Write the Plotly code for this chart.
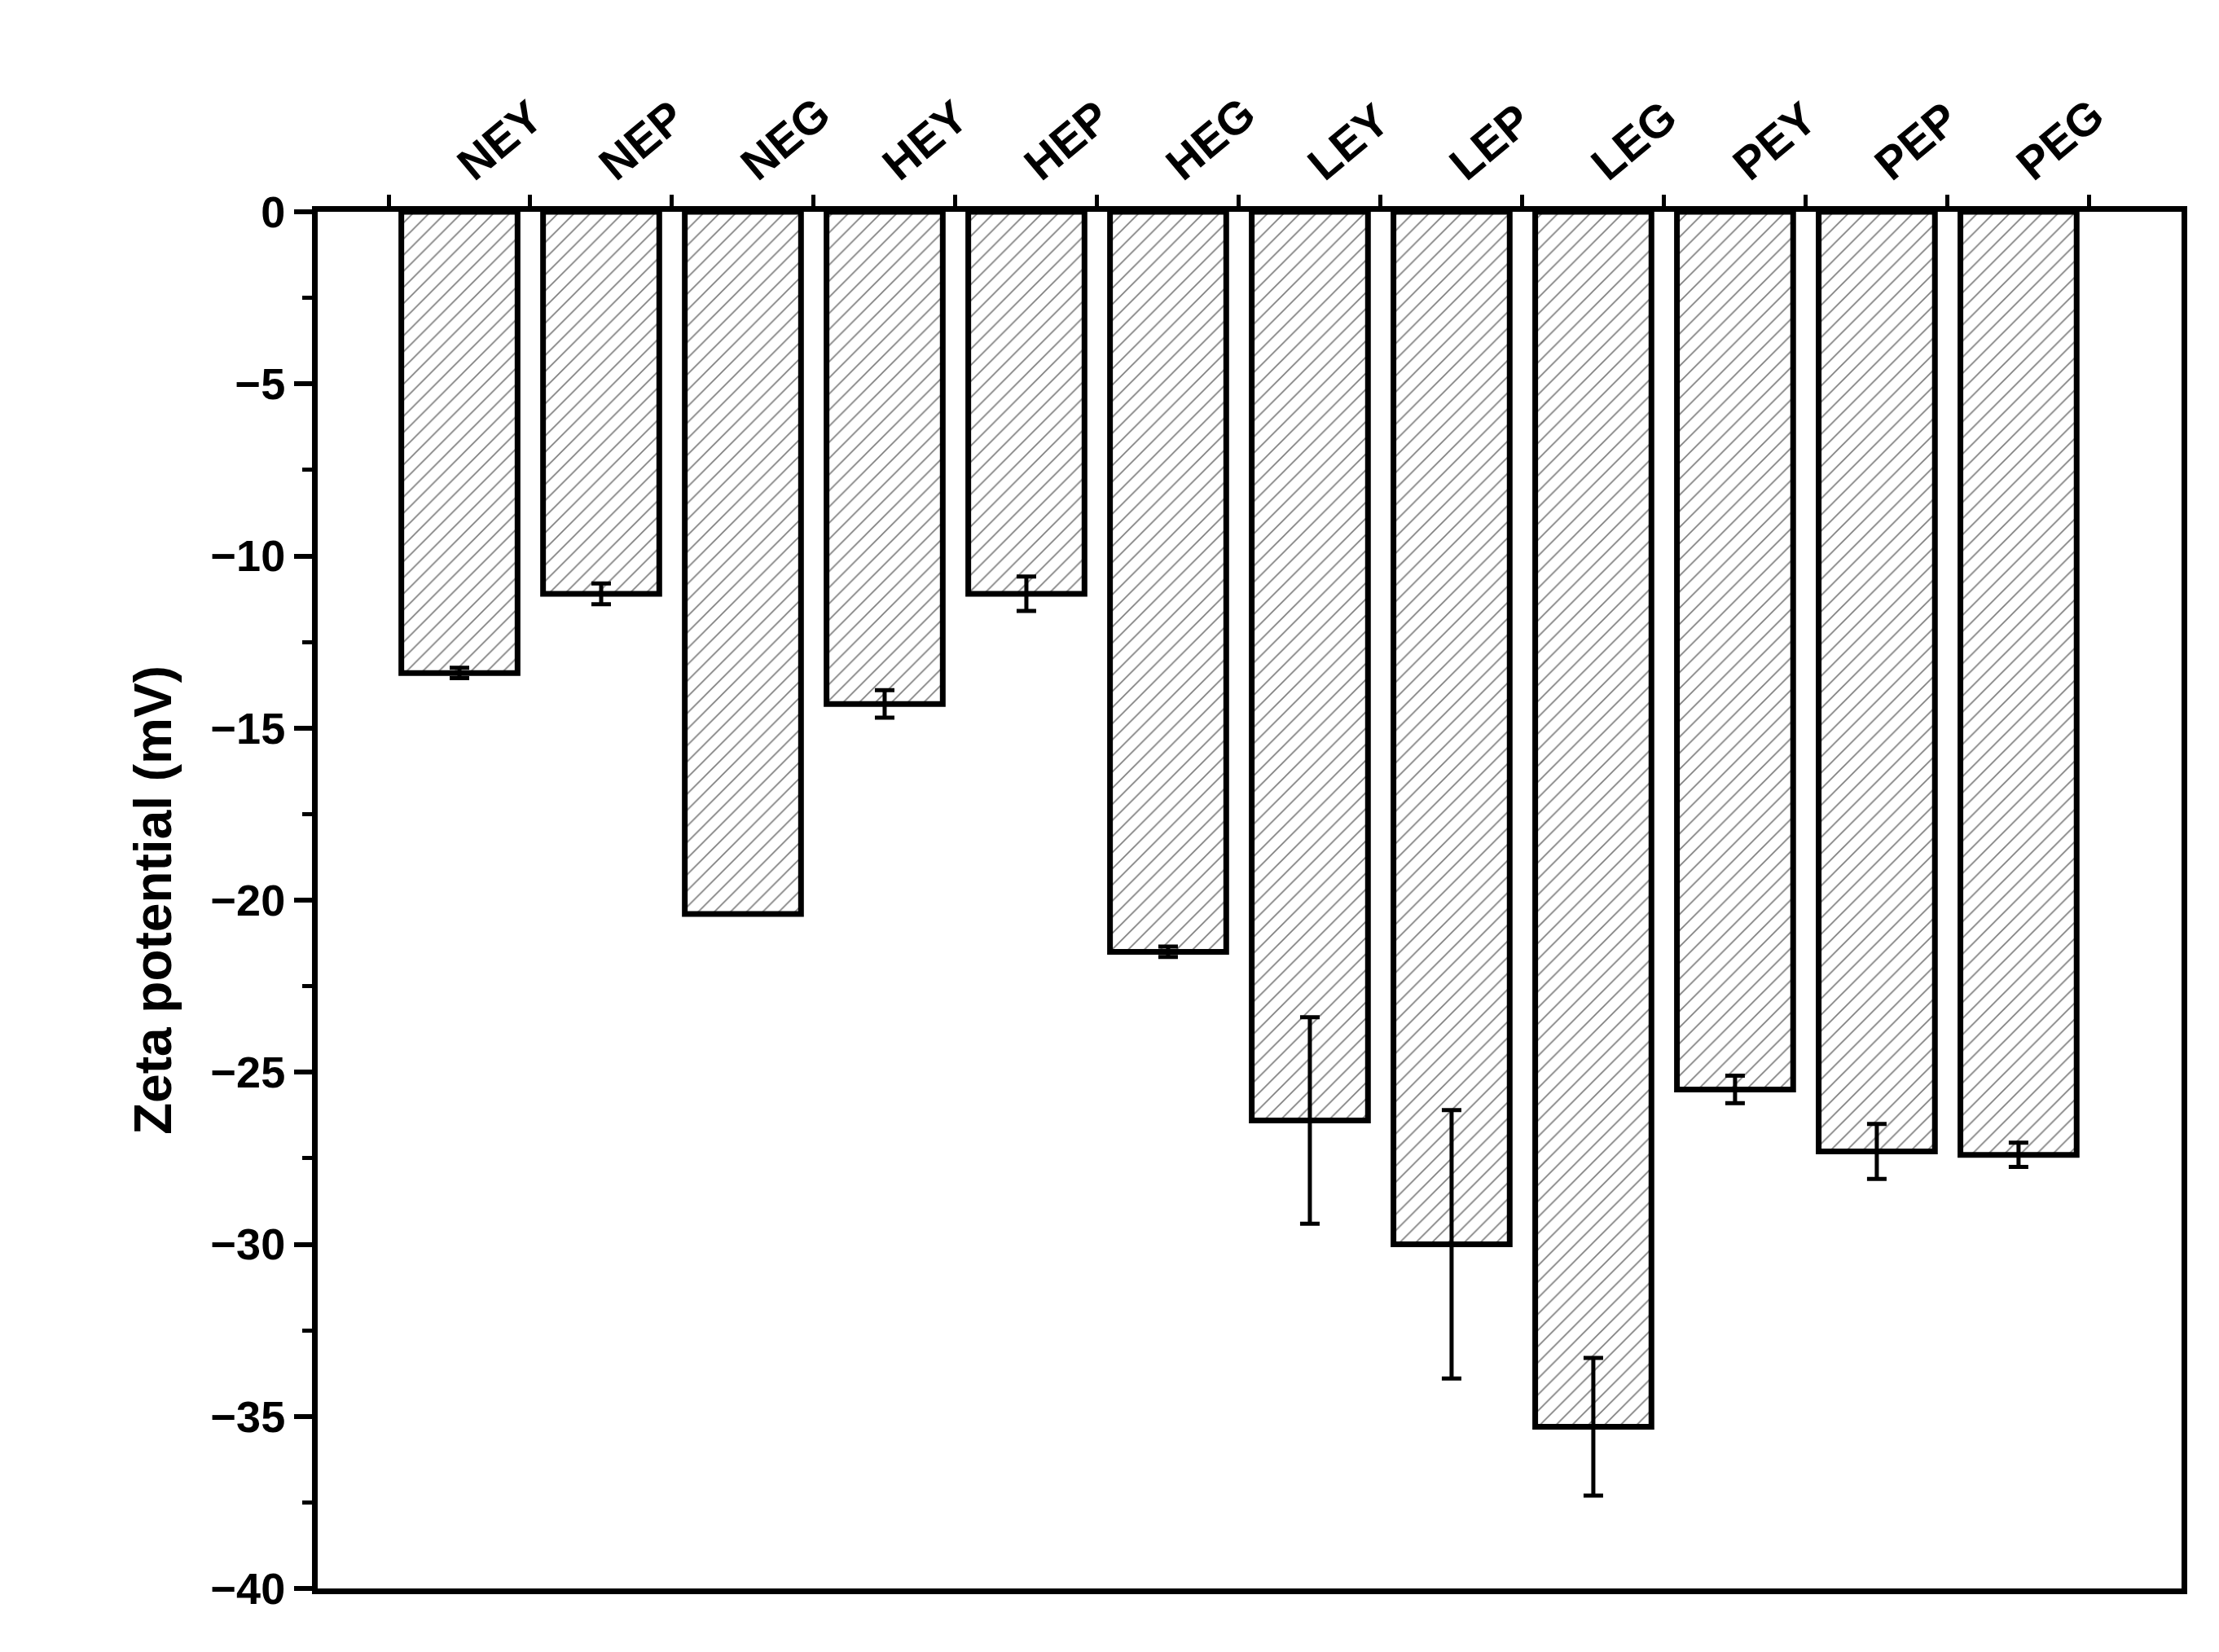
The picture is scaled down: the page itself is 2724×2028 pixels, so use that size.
import plotly.graph_objects as go

categories = ["NEY","NEP","NEG","HEY","HEP","HEG","LEY","LEP","LEG","PEY","PEP","PEG"]
values = [-13.4,-11.1,-20.4,-14.3,-11.1,-21.5,-26.4,-30.0,-35.3,-25.5,-27.3,-27.4]
errors = [0.15,0.3,0.0,0.4,0.5,0.15,3.0,3.9,2.0,0.4,0.8,0.35]
yticks = [0,-5,-10,-15,-20,-25,-30,-35,-40]

font = "Liberation Sans, Arial, sans-serif"
fig = go.Figure(go.Bar(
    x=list(range(len(categories))), y=values, width=0.82,
    marker=dict(color="white", line=dict(color="black", width=7),
                pattern=dict(shape="/", fgcolor="black", bgcolor="white", size=14, solidity=0.12)),
    error_y=dict(type="data", array=errors, color="black", thickness=5, width=12),
))
fig.update_layout(
    width=2724, height=2028, plot_bgcolor="white", paper_bgcolor="white",
    margin=dict(l=382, r=54, t=252, b=86), showlegend=False,
    font=dict(family=font, color="black"),
)
fig.update_xaxes(
    side="top", range=[-1, 12.15], tickmode="array",
    tickvals=list(range(len(categories))), ticktext=categories, tickangle=-40,
    tickfont=dict(size=56, family=font, color="black", weight="bold"),
    showline=True, linecolor="black", linewidth=7, mirror=True, showgrid=False,
    ticks="", zeroline=False,
    minor=dict(tickvals=[i+0.5 for i in range(-1, 12)], ticks="outside", ticklen=14, tickwidth=5, tickcolor="black"),
)
fig.update_yaxes(
    range=[-40, 0], tickvals=yticks, ticktext=["0","−5","−10","−15","−20","−25","−30","−35","−40"],
    tickfont=dict(size=54, family=font, color="black", weight="bold"),
    title=dict(text="<b>Zeta potential (mV)</b>", font=dict(size=64, family=font, color="black"), standoff=30),
    showline=True, linecolor="black", linewidth=7, mirror=True, showgrid=False, zeroline=False,
    ticks="outside", ticklen=22, tickwidth=6, tickcolor="black",
    minor=dict(dtick=2.5, ticks="outside", ticklen=12, tickwidth=5, tickcolor="black"),
)
fig.write_html("out.html")
